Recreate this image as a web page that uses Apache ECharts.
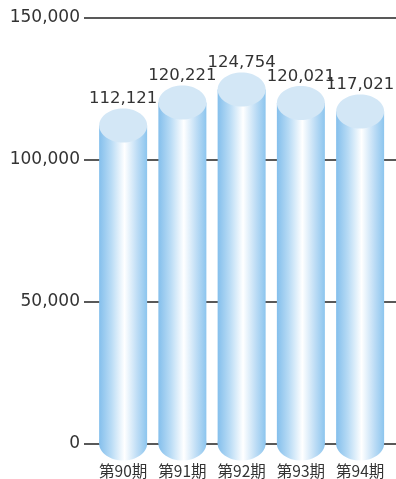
<!DOCTYPE html>
<html>
<head>
<meta charset="utf-8">
<script src="https://cdn.jsdelivr.net/npm/echarts@6/dist/echarts.min.js"></script>
<style>
  html, body { margin: 0; padding: 0; background: #fff; }
  #chart { width: 396px; height: 479px; }
</style>
</head>
<body>
<div id="chart"></div>
<script>
// Period labels and totals per period
const categories = ['第90期', '第91期', '第92期', '第93期', '第94期'];
const values = [112121, 120221, 124754, 120021, 117021];
// Value axis ticks
const yMin = 0;
const yMax = 150000;
const yStep = 50000;

const chart = echarts.init(document.getElementById('chart'), null, { renderer: 'canvas' });

const sideGradient = () => new echarts.graphic.LinearGradient(0, 0, 1, 0, [
  { offset: 0, color: '#84bfec' },
  { offset: 0.25, color: '#b8dbf5' },
  { offset: 0.53, color: '#ffffff' },
  { offset: 0.8, color: '#bcdcf5' },
  { offset: 1, color: '#8cc5ee' }
]);

const fmt = v => v.toLocaleString('en-US');

function renderCylinder(params, api) {
  const idx = api.value(0);
  const val = api.value(1);
  const top = api.coord([idx, val]);
  const base = api.coord([idx, 0]);
  const band = api.size([1, 0])[0];
  const rx = band * 0.405;
  const ry = 17;
  const cx = top[0];
  return {
    type: 'group',
    children: [
      {
        type: 'ellipse',
        shape: { cx: cx, cy: base[1], rx: rx, ry: ry },
        style: { fill: sideGradient() }
      },
      {
        type: 'rect',
        shape: { x: cx - rx, y: top[1], width: rx * 2, height: base[1] - top[1] },
        style: { fill: sideGradient() }
      },
      {
        type: 'ellipse',
        shape: { cx: cx, cy: top[1], rx: rx, ry: ry },
        style: { fill: '#d3e7f6' }
      },
      {
        type: 'text',
        x: cx,
        y: top[1] - ry - 1,
        style: {
          text: fmt(val),
          align: 'center',
          verticalAlign: 'bottom',
          fill: '#333',
          font: '16.5px "DejaVu Sans", sans-serif'
        }
      }
    ]
  };
}

chart.setOption({
  animation: false,
  grid: [
    { left: 84, right: 0, top: 18, bottom: 35 },
    { left: 93.5, width: 296.25, top: 18, bottom: 35 }
  ],
  xAxis: [
    { gridIndex: 0, type: 'value', min: 0, max: 1, show: false },
    {
      gridIndex: 1,
      type: 'category',
      data: categories,
      axisLine: { show: false },
      axisTick: { show: false },
      axisLabel: {
        interval: 0,
        hideOverlap: false,
        margin: 20,
        color: '#333',
        fontSize: 15.5,
        fontFamily: '"Noto Sans CJK JP", sans-serif'
      }
    }
  ],
  yAxis: [
    {
      gridIndex: 0,
      type: 'value',
      min: yMin,
      max: yMax,
      interval: yStep,
      axisLine: { show: false },
      axisTick: { show: false },
      axisLabel: {
        margin: 4,
        color: '#333',
        fontSize: 17,
        fontFamily: '"DejaVu Sans", sans-serif',
        formatter: v => fmt(v)
      },
      splitLine: { lineStyle: { color: '#222', width: 1.5 } }
    },
    { gridIndex: 1, type: 'value', min: yMin, max: yMax, interval: yStep, show: false }
  ],
  series: [
    {
      type: 'custom',
      xAxisIndex: 1,
      yAxisIndex: 1,
      renderItem: renderCylinder,
      clip: false,
      encode: { x: 0, y: 1 },
      data: values.map((v, i) => [i, v])
    }
  ]
});
</script>
</body>
</html>
